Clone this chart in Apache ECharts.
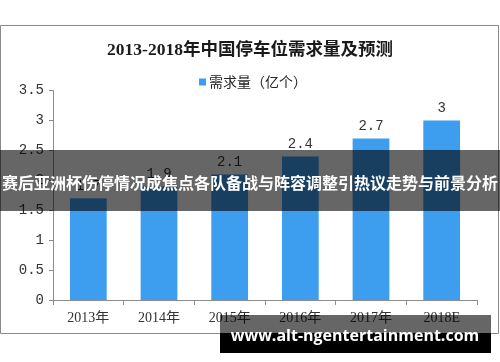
<!DOCTYPE html>
<html>
<head>
<meta charset="utf-8">
<script src="https://cdn.jsdelivr.net/npm/echarts@6/dist/echarts.min.js"></script>
<style>
html,body{margin:0;padding:0;background:#fff;}
#chart{width:500px;height:362px;}
</style>
</head>
<body>
<div id="chart"></div>
<script>
var categories = ['2013年', '2014年', '2015年', '2016年', '2017年', '2018E'];
var demand = [1.7, 1.9, 2.1, 2.4, 2.7, 3];
var seriesName = '需求量（亿个）';
var titleText = '2013-2018年中国停车位需求量及预测';
var bannerText = '赛后亚洲杯伤停情况成焦点各队备战与阵容调整引热议走势与前景分析';
var siteText = 'www.alt-ngentertainment.com';
var yMin = 0, yMax = 3.5, yStep = 0.5;

var chart = echarts.init(document.getElementById('chart'), null, {renderer: 'canvas'});
chart.setOption({
  animation: false,
  backgroundColor: '#fff',
  title: {
    text: titleText,
    left: 'center',
    top: 37,
    textStyle: {fontSize: 17.5, fontWeight: 'bold', color: '#1a1a1a', fontFamily: '"Liberation Serif", "Noto Sans CJK SC", serif'}
  },
  legend: {
    data: [seriesName],
    left: 194,
    top: 70,
    icon: 'rect',
    itemWidth: 7,
    itemHeight: 7,
    textStyle: {fontSize: 14, color: '#222', fontFamily: '"Noto Sans CJK SC", sans-serif', padding: [0, 0, 0, -2]}
  },
  grid: {left: 53, right: 23, top: 90.7, bottom: 62, containLabel: false},
  xAxis: {
    type: 'category',
    data: categories,
    axisLine: {lineStyle: {color: '#8c8c8c', width: 1}},
    axisTick: {show: true, length: 5, alignWithLabel: false, lineStyle: {color: '#8c8c8c'}},
    axisLabel: {fontSize: 14, color: '#333', margin: 11, fontFamily: '"Liberation Serif", "Noto Sans CJK SC", serif'}
  },
  yAxis: {
    type: 'value',
    min: yMin, max: yMax, interval: yStep,
    axisLine: {show: true, lineStyle: {color: '#8c8c8c', width: 1}},
    axisTick: {show: true, length: 4, lineStyle: {color: '#8c8c8c'}},
    splitLine: {show: false},
    axisLabel: {fontSize: 14, color: '#333', margin: 9, fontFamily: '"Liberation Mono", monospace'}
  },
  series: [{
    name: seriesName,
    type: 'bar',
    data: demand,
    barWidth: '52%',
    itemStyle: {color: '#3d9ef0'},
    label: {show: true, position: 'top', distance: 5, fontSize: 14, color: '#333', fontFamily: '"Liberation Mono", monospace'}
  }],
  graphic: [
    {type: 'rect', z: 90, shape: {x: 0.5, y: 25.5, width: 498, height: 308}, style: {fill: 'none', stroke: '#8a8a8a', lineWidth: 1}},
    {type: 'rect', z: 100, shape: {x: 0, y: 150, width: 500, height: 61}, style: {fill: 'rgba(0,0,0,0.6)'}},
    {type: 'text', z: 101, x: 250, y: 183, style: {text: bannerText, fill: '#fff', fontSize: 16, fontWeight: 'bold', fontFamily: '"Noto Sans CJK SC", sans-serif', textAlign: 'center', textVerticalAlign: 'middle'}},
    {type: 'rect', z: 100, shape: {x: 220, y: 315, width: 271, height: 18}, style: {fill: 'rgba(0,0,0,0.6)'}},
    {type: 'rect', z: 100, shape: {x: 220, y: 333, width: 271, height: 20}, style: {fill: '#000'}},
    {type: 'text', z: 101, x: 355, y: 336, style: {text: siteText, fill: '#fff', fontSize: 16, fontWeight: 'bold', fontFamily: '"Open Sans", sans-serif', textAlign: 'center', textVerticalAlign: 'middle'}}
  ]
});
</script>
</body>
</html>
